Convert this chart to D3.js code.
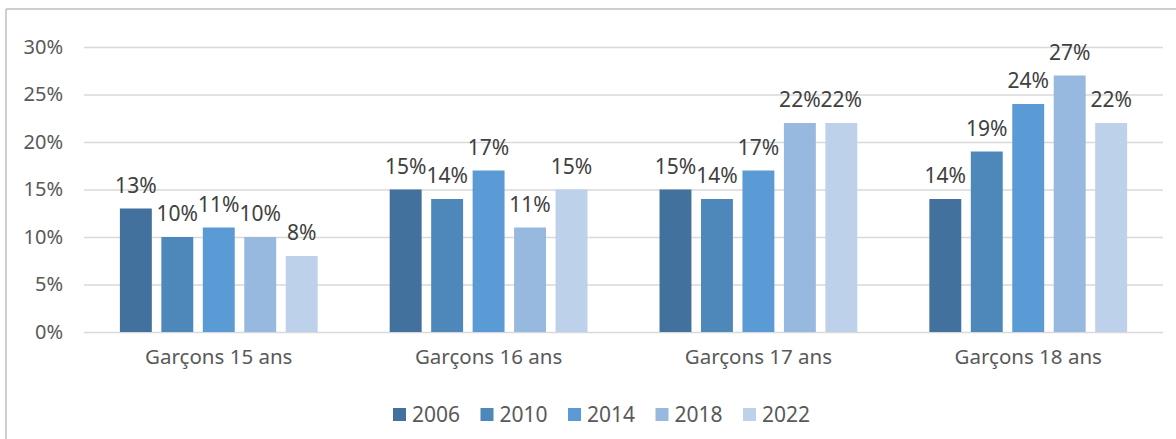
<!DOCTYPE html>
<meta charset="utf-8">
<style>
body { margin: 0; background: #fff; }
text { font-family: 'Noto Sans', sans-serif; }
.grid line { stroke: #d9d9d9; stroke-width: 1.5; }
.grid path.domain { display: none; }
.yaxis text { fill: #595959; font-size: 20px; }
.yaxis path.domain, .yaxis line { display: none; }
.xaxis text { fill: #595959; font-size: 20.5px; }
.xaxis path.domain, .xaxis line { display: none; }
.vlabel { fill: #404040; font-size: 21px; text-anchor: middle; }
.legend text { fill: #595959; font-size: 21px; }
</style>
<body>
<script src="https://d3js.org/d3.v7.min.js"></script>
<script>

// data
var categories = ["Garçons 15 ans", "Garçons 16 ans", "Garçons 17 ans", "Garçons 18 ans"];
var years = ["2006", "2010", "2014", "2018", "2022"];
var v2006 = [13, 15, 15, 14];
var v2010 = [10, 14, 14, 19];
var v2014 = [11, 17, 17, 24];
var v2018 = [10, 11, 22, 27];
var v2022 = [8, 15, 22, 22];
var yTicks = [0, 5, 10, 15, 20, 25, 30];
var colors = ["#41719c", "#4e88bb", "#5b9bd5", "#98b9df", "#bdd1ea"];

var series = [v2006, v2010, v2014, v2018, v2022];

var W = 1176, H = 439;
var svg = d3.select("body").append("svg")
    .attr("width", W)
    .attr("height", H);

// outer frame (only top and left visible)
svg.append("line").attr("x1", 6).attr("y1", 9).attr("x2", W).attr("y2", 9)
    .attr("stroke", "#bfbfbf").attr("stroke-width", 1.5);
svg.append("line").attr("x1", 6).attr("y1", 9).attr("x2", 6).attr("y2", H)
    .attr("stroke", "#bfbfbf").attr("stroke-width", 1.5);

var pLeft = 84, pRight = 1163, pTop = 47, pBottom = 332;

var x0 = d3.scaleBand()
    .domain(categories)
    .range([pLeft, pRight])
    .paddingInner(0.267)
    .paddingOuter(0.133);

var x1 = d3.scaleBand()
    .domain(years)
    .range([0, x0.bandwidth()])
    .paddingInner(0.23)
    .paddingOuter(0);

var y = d3.scaleLinear()
    .domain([0, 30])
    .range([pBottom, pTop]);

// gridlines
svg.append("g")
    .attr("class", "grid")
    .attr("transform", "translate(" + pLeft + ",0)")
    .call(d3.axisLeft(y).tickValues(yTicks).tickSize(-(pRight - pLeft)).tickFormat(""));

// y axis labels
svg.append("g")
    .attr("class", "yaxis")
    .attr("transform", "translate(" + (pLeft - 21) + ",0)")
    .call(d3.axisLeft(y).tickValues(yTicks).tickSize(0).tickPadding(0)
        .tickFormat(function(d) { return d + "%"; }));

// x axis labels
svg.append("g")
    .attr("class", "xaxis")
    .attr("transform", "translate(0," + pBottom + ")")
    .call(d3.axisBottom(x0).tickSize(0).tickPadding(17));

// bars
var groups = svg.selectAll(".grp")
    .data(categories)
  .enter().append("g")
    .attr("class", "grp")
    .attr("transform", function(d) { return "translate(" + x0(d) + ",0)"; });

groups.each(function(cat, ci) {
    var g = d3.select(this);
    var rows = years.map(function(yr, si) { return {year: yr, value: series[si][ci], si: si}; });
    g.selectAll("rect")
        .data(rows)
      .enter().append("rect")
        .attr("x", function(d) { return x1(d.year); })
        .attr("width", x1.bandwidth())
        .attr("y", function(d) { return y(d.value); })
        .attr("height", function(d) { return pBottom - y(d.value); })
        .attr("fill", function(d) { return colors[d.si]; });
    g.selectAll("text")
        .data(rows)
      .enter().append("text")
        .attr("class", "vlabel")
        .attr("x", function(d) { return x1(d.year) + x1.bandwidth() / 2; })
        .attr("y", function(d) { return y(d.value) - 16; })
        .text(function(d) { return d.value + "%"; });
});

// legend
var legend = svg.append("g").attr("class", "legend");
var lg = legend.selectAll("g")
    .data(years)
  .enter().append("g")
    .attr("transform", function(d, i) { return "translate(" + (393 + i * 87.5) + ",408)"; });
lg.append("rect")
    .attr("width", 13).attr("height", 13)
    .attr("fill", function(d, i) { return colors[i]; });
lg.append("text")
    .attr("x", 19).attr("y", 14)
    .text(function(d) { return d; });

</script>
</body>
